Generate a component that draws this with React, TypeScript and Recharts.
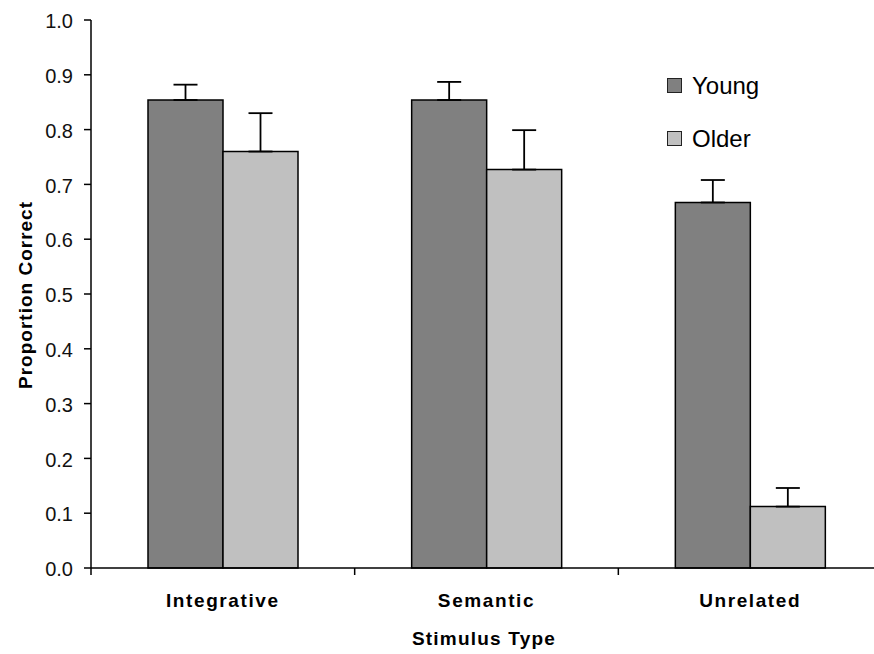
import React from "react";
import { Bar, BarChart, ErrorBar, Label, Legend, XAxis, YAxis } from "recharts";

const categories = ["Integrative", "Semantic", "Unrelated"];
const youngMeans = [0.854, 0.854, 0.667];
const youngErrors = [0.028, 0.033, 0.041];
const olderMeans = [0.76, 0.727, 0.112];
const olderErrors = [0.07, 0.072, 0.034];
const yTicks = [0, 0.1, 0.2, 0.3, 0.4, 0.5, 0.6, 0.7, 0.8, 0.9, 1.0];

const series = [
  { key: "young", name: "Young", fill: "#808080" },
  { key: "older", name: "Older", fill: "#c0c0c0" },
];

const data = categories.map((name, i) => ({
  name,
  young: youngMeans[i],
  youngErr: [0, youngErrors[i]],
  older: olderMeans[i],
  olderErr: [0, olderErrors[i]],
}));

const FONT = '"Liberation Sans", Arial, sans-serif';
const CHART_W = 890;
const CHART_H = 654;
const Y_AXIS_W = 91;
const RIGHT = 8;
const BAND = (CHART_W - Y_AXIS_W - RIGHT) / categories.length;
const TICK_SIZE = 7;
const TICK_MARGIN = 2;

// category labels sit mid-band, tick marks sit on the band edges
function CategoryTick(props: any) {
  const { x, y, payload } = props;
  const axisY = y - TICK_SIZE - TICK_MARGIN;
  const left = x - BAND / 2;
  return (
    <g>
      <line x1={left} y1={axisY} x2={left} y2={axisY + TICK_SIZE} stroke="#000" strokeWidth={1.5} />
      <text
        x={x}
        y={y}
        dy={30}
        textAnchor="middle"
        fontFamily={FONT}
        fontSize={19}
        fontWeight="bold"
        letterSpacing={1.6}
        fill="#000"
      >
        {payload.value}
      </text>
    </g>
  );
}

function LegendBox() {
  return (
    <div style={{ fontFamily: FONT, fontSize: 24, color: "#000" }}>
      {series.map((s) => (
        <div key={s.key} style={{ height: 53, display: "flex", alignItems: "center" }}>
          <span
            style={{
              display: "inline-block",
              width: 13,
              height: 13,
              background: s.fill,
              border: "1.5px solid #222",
              marginRight: 10,
            }}
          />
          <span>{s.name}</span>
        </div>
      ))}
    </div>
  );
}

export default function App() {
  return (
    <div
      style={{
        position: "absolute",
        left: 0,
        top: 0,
        width: 874,
        height: 654,
        overflow: "hidden",
        background: "#fff",
      }}
    >
      <BarChart
        width={CHART_W}
        height={CHART_H}
        data={data}
        margin={{ top: 20, right: RIGHT, bottom: 0, left: 0 }}
        barGap={0}
        barSize={75}
      >
        <XAxis
          dataKey="name"
          height={86}
          axisLine={{ stroke: "#000", strokeWidth: 1.5 }}
          tickLine={false}
          tickSize={TICK_SIZE}
          tickMargin={TICK_MARGIN}
          tick={<CategoryTick />}
          interval={0}
        >
          <Label
            content={() => (
              <text
                x={484}
                y={645}
                textAnchor="middle"
                fontFamily={FONT}
                fontSize={19}
                fontWeight="bold"
                letterSpacing={1.2}
                fill="#000"
              >
                Stimulus Type
              </text>
            )}
          />
        </XAxis>
        <YAxis
          width={Y_AXIS_W}
          domain={[0, 1]}
          ticks={yTicks}
          interval={0}
          tickFormatter={(v: number) => v.toFixed(1)}
          axisLine={{ stroke: "#000", strokeWidth: 1.5 }}
          tickLine={{ stroke: "#000", strokeWidth: 1.5 }}
          tickSize={7}
          tickMargin={11}
          tick={{ fill: "#111", fontSize: 20, fontFamily: FONT, dy: 1 }}
        >
          <Label
            content={() => (
              <text
                x={32}
                y={295}
                transform="rotate(-90 32 295)"
                textAnchor="middle"
                fontFamily={FONT}
                fontSize={19}
                fontWeight="bold"
                letterSpacing={1}
                fill="#000"
              >
                Proportion Correct
              </text>
            )}
          />
        </YAxis>
        <Legend
          layout="vertical"
          align="center"
          verticalAlign="middle"
          content={() => <LegendBox />}
          wrapperStyle={{ left: 667, top: 59, width: 150 }}
        />
        {series.map((s) => (
          <Bar
            key={s.key}
            dataKey={s.key}
            name={s.name}
            fill={s.fill}
            stroke="#000"
            strokeWidth={1.5}
            isAnimationActive={false}
          >
            <ErrorBar
              dataKey={`${s.key}Err`}
              width={12}
              stroke="#000"
              strokeWidth={1.8}
              isAnimationActive={false}
            />
          </Bar>
        ))}
      </BarChart>
    </div>
  );
}
